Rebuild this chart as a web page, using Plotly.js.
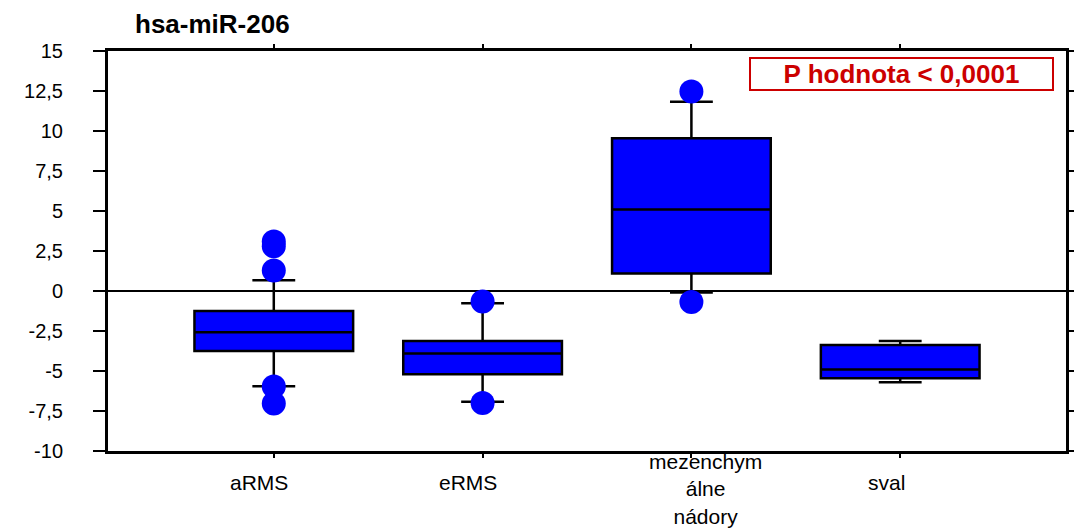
<!DOCTYPE html>
<html>
<head>
<meta charset="utf-8">
<script src="https://cdn.plot.ly/plotly-3.0.1.min.js"></script>
<style>
html,body{margin:0;padding:0;background:#fff;}
#chart{width:1074px;height:531px;}
</style>
</head>
<body>
<div id="chart"></div>
<script>
// ---- data ----
var categories = ['aRMS', 'eRMS', 'mezenchymálne nádory', 'sval'];
var tickLabels = ['aRMS', 'eRMS', 'mezenchym<br>álne<br>nádory', 'sval'];
var q1         = [-3.75, -5.20, 1.10, -5.46];
var median     = [-2.58, -3.90, 5.10, -4.90];
var q3         = [-1.25, -3.12, 9.54, -3.37];
var lowerFence = [-5.96, -6.92, -0.10, -5.70];
var upperFence = [0.67, -0.77, 11.83, -3.12];
var outlierCat = ['aRMS', 'aRMS', 'aRMS', 'aRMS', 'aRMS', 'eRMS', 'eRMS', 'mezenchymálne nádory', 'mezenchymálne nádory'];
var outlierVal = [3.10, 2.80, 1.28, -5.97, -7.03, -0.66, -7.00, 12.47, -0.69];
var yTickVals  = [-10, -7.5, -5, -2.5, 0, 2.5, 5, 7.5, 10, 12.5, 15];
var yTickText  = ['-10', '-7,5', '-5', '-2,5', '0', '2,5', '5', '7,5', '10', '12,5', '15'];
var chartTitle = 'hsa-miR-206';
var pText = 'P hodnota &lt; 0,0001';

var FONT = 'Liberation Sans, Arial, sans-serif';
var labelShiftX = [-15, -15, 14, -14];
var labelShiftY = [0, 0, -7, 0];

var traces = [
  {
    type: 'box',
    x: categories,
    q1: q1,
    median: median,
    q3: q3,
    lowerfence: lowerFence,
    upperfence: upperFence,
    boxpoints: false,
    width: 0.76,
    whiskerwidth: 0.27,
    fillcolor: '#0000ff',
    line: {color: '#000000', width: 2.5},
    hoverinfo: 'skip',
    showlegend: false
  },
  {
    type: 'scatter',
    mode: 'markers',
    x: outlierCat,
    y: outlierVal,
    marker: {color: '#0000ff', size: 24, line: {width: 0}},
    hoverinfo: 'skip',
    showlegend: false,
    cliponaxis: false
  }
];

var annotations = tickLabels.map(function (t, i) {
  return {
    xref: 'x', yref: 'paper',
    x: categories[i], y: -0.078,
    xanchor: 'center', yanchor: 'middle',
    xshift: labelShiftX[i], yshift: labelShiftY[i],
    text: t, showarrow: false,
    font: {family: FONT, size: 21, color: '#000'}
  };
});
annotations.push({
  xref: 'paper', yref: 'paper',
  x: 0.8283, y: 0.9425,
  xanchor: 'center', yanchor: 'middle',
  text: '<b>' + pText + '</b>', showarrow: false,
  width: 299, height: 28,
  borderpad: 1, borderwidth: 2, bordercolor: '#cc0000',
  bgcolor: '#ffffff',
  font: {family: FONT, size: 26, color: '#cc0000'}
});

var layout = {
  width: 1074, height: 531,
  paper_bgcolor: '#ffffff', plot_bgcolor: '#ffffff',
  margin: {l: 108, r: 8, t: 51, b: 80},
  font: {family: FONT, color: '#000'},
  title: {
    text: '<b>' + chartTitle + '</b>',
    xref: 'container', yref: 'container',
    x: 135 / 1074, xanchor: 'left',
    y: 1 - 24 / 531, yanchor: 'middle',
    font: {family: FONT, size: 26, color: '#000'}
  },
  xaxis: {
    type: 'category',
    categoryarray: categories,
    range: [-0.794, 3.794],
    showgrid: false, zeroline: false,
    showline: true, linecolor: '#000', linewidth: 3,
    mirror: 'allticks',
    ticks: 'outside', ticklen: 4, tickwidth: 2, tickcolor: '#000',
    showticklabels: false,
    fixedrange: true
  },
  yaxis: {
    range: [-10, 15],
    tickvals: yTickVals, ticktext: yTickText,
    showgrid: false,
    zeroline: true, zerolinecolor: '#000', zerolinewidth: 2,
    showline: true, linecolor: '#000', linewidth: 3,
    mirror: 'allticks',
    ticks: 'outside', ticklen: 12, tickwidth: 2.5, tickcolor: '#000',
    ticklabelstandoff: 26,
    tickfont: {family: FONT, size: 20, color: '#000'},
    fixedrange: true
  },
  annotations: annotations,
  showlegend: false
};

Plotly.newPlot('chart', traces, layout, {displayModeBar: false, staticPlot: true});
</script>
</body>
</html>
